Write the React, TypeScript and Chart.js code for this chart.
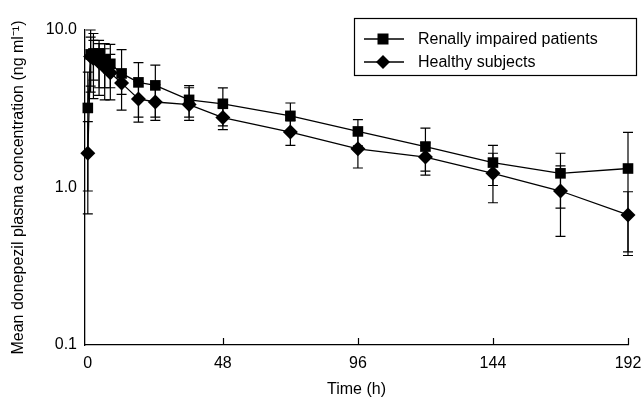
import React, { useEffect, useRef } from "react";
import { Chart, registerables } from "chart.js";

Chart.register(...registerables);

// ---- data ----
const seriesNames = ["Renally impaired patients", "Healthy subjects"];

const renalTimes = [0, 1, 2, 4, 6, 8, 12, 18, 24, 36, 48, 72, 96, 120, 144, 168, 192];
const renalMean = [3.2, 7.0, 7.1, 7.1, 6.5, 6.1, 5.3, 4.65, 4.45, 3.6, 3.4, 2.85, 2.27, 1.82, 1.44, 1.23, 1.32];
const renalUpper = [5.4, 10.0, 9.5, 8.6, 8.2, 8.1, 7.5, 6.2, 5.98, 4.44, 4.29, 3.44, 2.7, 2.38, 1.85, 1.65, 2.24];
const renalLower = [0.95, 4.4, 4.8, 4.3, 4.3, 4.3, 3.1, 2.8, 2.8, 2.8, 2.46, 2.26, 1.84, 1.27, 1.03, 0.74, 0.39];

const healthyTimes = [0, 1, 2, 4, 6, 8, 12, 18, 24, 36, 48, 72, 96, 120, 144, 168, 192];
const healthyMean = [1.65, 6.8, 6.6, 6.25, 5.8, 5.35, 4.6, 3.65, 3.49, 3.36, 2.78, 2.25, 1.76, 1.56, 1.23, 0.95, 0.67];
const healthyUpper = [2.62, 9.0, 8.6, 8.2, 7.6, 7.0, 5.3, 4.7, 4.5, 4.3, 3.23, 2.65, 2.2, 1.92, 1.65, 1.37, 0.94];
const healthyLower = [0.68, 4.03, 3.67, 3.85, 3.6, 3.6, 3.9, 2.6, 2.67, 2.67, 2.33, 1.85, 1.33, 1.2, 0.8, 0.49, 0.37];

const xTickValues = [0, 48, 96, 144, 192];
const yTickValues = [0.1, 1, 10];
const yTickLabels = ["0.1", "1.0", "10.0"];
const xTitle = "Time (h)";
const yTitle = "Mean donepezil plasma concentration (ng ml\u207B\u00B9)";

const FONT = "'Liberation Sans', Arial, Helvetica, sans-serif";

const errorBarPlugin = {
  id: "errorBars",
  beforeDatasetsDraw(chart: any) {
    const { ctx } = chart;
    const xs = chart.scales.x;
    const ys = chart.scales.y;
    ctx.save();
    ctx.strokeStyle = "#000";
    ctx.lineWidth = 1.2;
    chart.data.datasets.forEach((ds: any) => {
      ds.data.forEach((p: any, j: number) => {
        const px = xs.getPixelForValue(p.x);
        const top = ys.getPixelForValue(ds.errUpper[j]);
        const bot = ys.getPixelForValue(ds.errLower[j]);
        const hw = 5;
        ctx.beginPath();
        ctx.moveTo(px, top);
        ctx.lineTo(px, bot);
        ctx.moveTo(px - hw, top);
        ctx.lineTo(px + hw, top);
        ctx.moveTo(px - hw, bot);
        ctx.lineTo(px + hw, bot);
        ctx.stroke();
      });
    });
    ctx.restore();
  },
};

const inwardTicksPlugin = {
  id: "inwardTicks",
  afterDraw(chart: any) {
    const { ctx } = chart;
    const xs = chart.scales.x;
    const base = chart.chartArea.bottom;
    ctx.save();
    ctx.strokeStyle = "#000";
    ctx.lineWidth = 1.2;
    xTickValues.forEach((v) => {
      if (v === 0) return;
      const px = Math.round(xs.getPixelForValue(v)) + 0.5;
      ctx.beginPath();
      ctx.moveTo(px, base);
      ctx.lineTo(px, base - 7);
      ctx.stroke();
    });
    ctx.restore();
  },
};

const legendPlugin = {
  id: "boxLegend",
  afterDraw(chart: any) {
    const { ctx } = chart;
    ctx.save();
    ctx.strokeStyle = "#000";
    ctx.lineWidth = 1.2;
    ctx.strokeRect(354.5, 18.5, 282, 57);
    const rows = [39, 62];
    rows.forEach((ry, i) => {
      ctx.beginPath();
      ctx.moveTo(364, ry);
      ctx.lineTo(404, ry);
      ctx.lineWidth = 1.3;
      ctx.stroke();
      ctx.fillStyle = "#000";
      const cx = 383;
      if (i === 0) {
        ctx.fillRect(cx - 5.5, ry - 5.5, 11, 11);
      } else {
        ctx.beginPath();
        ctx.moveTo(cx, ry - 7);
        ctx.lineTo(cx + 7, ry);
        ctx.lineTo(cx, ry + 7);
        ctx.lineTo(cx - 7, ry);
        ctx.closePath();
        ctx.fill();
      }
      ctx.font = `16px ${FONT}`;
      ctx.textBaseline = "middle";
      ctx.textAlign = "left";
      ctx.fillText(seriesNames[i], 418, ry + 1);
    });
    ctx.restore();
  },
};

export default function App() {
  const ref = useRef<HTMLCanvasElement | null>(null);

  useEffect(() => {
    if (!ref.current) return;
    const chart = new Chart(ref.current, {
      type: "line",
      data: {
        datasets: [
          {
            label: seriesNames[0],
            data: renalTimes.map((t, i) => ({ x: t, y: renalMean[i] })),
            errUpper: renalUpper,
            errLower: renalLower,
            borderColor: "#000",
            backgroundColor: "#000",
            borderWidth: 1.3,
            pointStyle: "rect",
            pointRadius: 7.5,
            pointBorderWidth: 0,
            tension: 0,
            clip: false,
          } as any,
          {
            label: seriesNames[1],
            data: healthyTimes.map((t, i) => ({ x: t, y: healthyMean[i] })),
            errUpper: healthyUpper,
            errLower: healthyLower,
            borderColor: "#000",
            backgroundColor: "#000",
            borderWidth: 1.3,
            pointStyle: "rectRot",
            pointRadius: 7.5,
            pointBorderWidth: 0,
            tension: 0,
            clip: false,
          } as any,
        ],
      },
      options: {
        responsive: false,
        animation: false,
        events: [],
        layout: { padding: { left: 5, top: 30, right: 14, bottom: 0 } },
        plugins: {
          legend: { display: false },
          tooltip: { enabled: false },
        },
        scales: {
          x: {
            type: "linear",
            min: -1,
            max: 192,
            grid: { display: false, drawTicks: false },
            border: { display: true, color: "#000", width: 1.3 },
            afterBuildTicks: (scale: any) => {
              scale.ticks = xTickValues.map((v) => ({ value: v }));
            },
            afterFit: (scale: any) => {
              scale.height = 56;
              scale.paddingLeft = 0;
              scale.paddingRight = 0;
            },
            ticks: {
              color: "#000",
              padding: 9,
              maxRotation: 0,
              autoSkip: false,
              font: { family: FONT, size: 16 },
              callback: (v: any) => String(v),
            },
            title: {
              display: true,
              text: xTitle,
              color: "#000",
              font: { family: FONT, size: 16 },
              padding: { top: 4, bottom: 2 },
            },
          },
          y: {
            type: "logarithmic",
            min: 0.1,
            max: 10,
            grid: { display: false, drawTicks: false },
            border: { display: true, color: "#000", width: 1.3 },
            afterBuildTicks: (scale: any) => {
              scale.ticks = yTickValues.map((v) => ({ value: v }));
            },
            afterFit: (scale: any) => {
              scale.width = 80;
              scale.paddingTop = 0;
              scale.paddingBottom = 0;
            },
            ticks: {
              color: "#000",
              padding: 8,
              autoSkip: false,
              font: { family: FONT, size: 16 },
              callback: (_v: any, i: number) => yTickLabels[i],
            },
            title: {
              display: true,
              text: yTitle,
              color: "#000",
              font: { family: FONT, size: 16 },
            },
          },
        },
      } as any,
      plugins: [errorBarPlugin, inwardTicksPlugin, legendPlugin],
    });
    return () => chart.destroy();
  }, []);

  return (
    <div style={{ position: "absolute", left: 0, top: 0, width: 642, height: 401, background: "#fff" }}>
      <canvas ref={ref} width={642} height={401} style={{ width: 642, height: 401, display: "block" }} />
    </div>
  );
}
